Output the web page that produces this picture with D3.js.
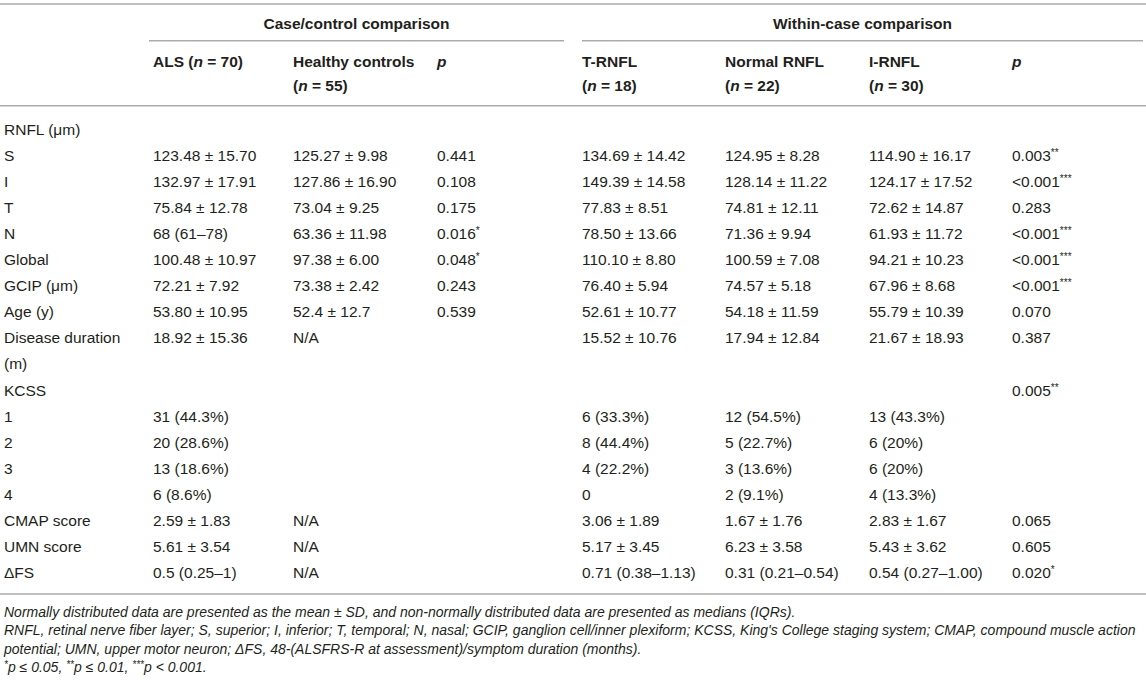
<!DOCTYPE html>
<html>
<head>
<meta charset="utf-8">
<script src="https://cdn.jsdelivr.net/npm/d3@7/dist/d3.min.js"></script>
<style>
  html, body { margin: 0; padding: 0; background: #fff; }
  svg { display: block; }
  text { font-family: "Liberation Sans", Arial, Helvetica, sans-serif; fill: #231f20; }
</style>
</head>
<body>
<svg id="chart" width="1146" height="683"></svg>
<script>
// ---------- DATA ----------
const groupTitles = ["Case/control comparison", "Within-case comparison"];
// header parts: [text, italic?], one array per line
const headerLabels = [
  [],
  [[["ALS (", 0], ["n", 1], [" = 70)", 0]]],
  [[["Healthy controls", 0]], [["(", 0], ["n", 1], [" = 55)", 0]]],
  [[["p", 1]]],
  [[["T-RNFL", 0]], [["(", 0], ["n", 1], [" = 18)", 0]]],
  [[["Normal RNFL", 0]], [["(", 0], ["n", 1], [" = 22)", 0]]],
  [[["I-RNFL", 0]], [["(", 0], ["n", 1], [" = 30)", 0]]],
  [[["p", 1]]]
];
const rowLabels = ["RNFL (\u03bcm)", "S", "I", "T", "N", "Global", "GCIP (\u03bcm)", "Age (y)",
  "Disease duration|(m)", "KCSS", "1", "2", "3", "4", "CMAP score", "UMN score", "\u0394FS"];
const alsValues = ["", "123.48 \u00b1 15.70", "132.97 \u00b1 17.91", "75.84 \u00b1 12.78", "68 (61\u201378)",
  "100.48 \u00b1 10.97", "72.21 \u00b1 7.92", "53.80 \u00b1 10.95", "18.92 \u00b1 15.36", "",
  "31 (44.3%)", "20 (28.6%)", "13 (18.6%)", "6 (8.6%)", "2.59 \u00b1 1.83", "5.61 \u00b1 3.54", "0.5 (0.25\u20131)"];
const controlValues = ["", "125.27 \u00b1 9.98", "127.86 \u00b1 16.90", "73.04 \u00b1 9.25", "63.36 \u00b1 11.98",
  "97.38 \u00b1 6.00", "73.38 \u00b1 2.42", "52.4 \u00b1 12.7", "N/A", "",
  "", "", "", "", "N/A", "N/A", "N/A"];
const pCaseControl = ["", "0.441", "0.108", "0.175", "0.016*", "0.048*", "0.243", "0.539", "", "",
  "", "", "", "", "", "", ""];
const tRnflValues = ["", "134.69 \u00b1 14.42", "149.39 \u00b1 14.58", "77.83 \u00b1 8.51", "78.50 \u00b1 13.66",
  "110.10 \u00b1 8.80", "76.40 \u00b1 5.94", "52.61 \u00b1 10.77", "15.52 \u00b1 10.76", "",
  "6 (33.3%)", "8 (44.4%)", "4 (22.2%)", "0", "3.06 \u00b1 1.89", "5.17 \u00b1 3.45", "0.71 (0.38\u20131.13)"];
const normalRnflValues = ["", "124.95 \u00b1 8.28", "128.14 \u00b1 11.22", "74.81 \u00b1 12.11", "71.36 \u00b1 9.94",
  "100.59 \u00b1 7.08", "74.57 \u00b1 5.18", "54.18 \u00b1 11.59", "17.94 \u00b1 12.84", "",
  "12 (54.5%)", "5 (22.7%)", "3 (13.6%)", "2 (9.1%)", "1.67 \u00b1 1.76", "6.23 \u00b1 3.58", "0.31 (0.21\u20130.54)"];
const iRnflValues = ["", "114.90 \u00b1 16.17", "124.17 \u00b1 17.52", "72.62 \u00b1 14.87", "61.93 \u00b1 11.72",
  "94.21 \u00b1 10.23", "67.96 \u00b1 8.68", "55.79 \u00b1 10.39", "21.67 \u00b1 18.93", "",
  "13 (43.3%)", "6 (20%)", "6 (20%)", "4 (13.3%)", "2.83 \u00b1 1.67", "5.43 \u00b1 3.62", "0.54 (0.27\u20131.00)"];
const pWithinCase = ["", "0.003**", "<0.001***", "0.283", "<0.001***", "<0.001***", "<0.001***", "0.070", "0.387",
  "0.005**", "", "", "", "", "0.065", "0.605", "0.020*"];
const footnotes = [
  "Normally distributed data are presented as the mean \u00b1 SD, and non-normally distributed data are presented as medians (IQRs).",
  "RNFL, retinal nerve fiber layer; S, superior; I, inferior; T, temporal; N, nasal; GCIP, ganglion cell/inner plexiform; KCSS, King's College staging system; CMAP, compound muscle action",
  "potential; UMN, upper motor neuron; \u0394FS, 48-(ALSFRS-R at assessment)/symptom duration (months).",
  "*p \u2264 0.05, **p \u2264 0.01, ***p < 0.001."
];

// ---------- LAYOUT ----------
const svg = d3.select("#chart");
const W = 1146;
const FS = 15.5;
const colKeys = ["label", "als", "hc", "p1", "t", "nrm", "irn", "p2"];
const x = d3.scaleOrdinal().domain(colKeys).range([4, 153, 293, 437, 582, 725, 869, 1012]);
const columnsData = [rowLabels, alsValues, controlValues, pCaseControl, tRnflValues, normalRnflValues, iRnflValues, pWithinCase];

// line index for each row (disease duration takes two lines)
const lineIndex = [];
let li = 0;
rowLabels.forEach(r => { lineIndex.push(li); li += r.split("|").length; });
const y = d3.scaleLinear().domain([0, 17]).range([129, 572.7]);
const BASE = 5.5; // center -> baseline offset

const ruleColor = "#ababab";
function rule(x1, x2, yy) {
  svg.append("line").attr("x1", x1).attr("x2", x2).attr("y1", yy).attr("y2", yy)
    .attr("stroke", ruleColor).attr("stroke-width", 1.6);
}
rule(0, W, 4);
rule(149, 564, 40.7);
rule(582, 1143, 40.7);
rule(0, W, 105.7);
rule(0, W, 594);

// group titles
const groupSpans = [[149, 564], [582, 1143]];
svg.selectAll("text.group").data(groupTitles).join("text")
  .attr("class", "group")
  .attr("x", (d, i) => (groupSpans[i][0] + groupSpans[i][1]) / 2)
  .attr("y", 23 + BASE)
  .attr("text-anchor", "middle")
  .attr("font-size", FS).attr("font-weight", "bold")
  .text(d => d);

// column headers
const headerY = [61, 85];
headerLabels.forEach((lines, ci) => {
  lines.forEach((parts, lj) => {
    const t = svg.append("text")
      .attr("x", x(colKeys[ci]))
      .attr("y", headerY[lj] + BASE)
      .attr("font-size", FS).attr("font-weight", "bold");
    t.selectAll("tspan").data(parts).join("tspan")
      .attr("font-style", d => d[1] ? "italic" : "normal")
      .text(d => d[0]);
  });
});

// cells with superscript stars
function cellText(sel, str) {
  const m = str.match(/^(.*?)(\*+)$/);
  if (m) {
    sel.append("tspan").text(m[1]);
    sel.append("tspan").attr("font-size", 10).attr("dy", -5).text(m[2]);
  } else {
    sel.text(str);
  }
}

columnsData.forEach((col, ci) => {
  col.forEach((val, ri) => {
    if (!val) return;
    const lines = val.split("|");
    lines.forEach((ln, k) => {
      const t = svg.append("text")
        .attr("x", x(colKeys[ci]))
        .attr("y", y(lineIndex[ri] + k) + BASE)
        .attr("font-size", FS);
      cellText(t, ln);
    });
  });
});

// footnotes
const FN = 14;
const fy = d3.scaleLinear().domain([0, 3]).range([612, 667]);
footnotes.forEach((f, i) => {
  const t = svg.append("text")
    .attr("x", 4).attr("y", fy(i) + 5)
    .attr("font-size", FN).attr("font-style", "italic");
  if (i === 3) {
    const parts = [["*", 1], ["p \u2264 0.05, ", 0], ["**", 1], ["p \u2264 0.01, ", 0], ["***", 1], ["p < 0.001.", 0]];
    parts.forEach((p, k) => {
      const s = t.append("tspan").text(p[0]);
      if (p[1]) s.attr("font-size", 10).attr("dy", -4.5);
      else s.attr("dy", 4.5).attr("font-size", FN);
    });
    t.select("tspan").attr("dy", -4.5);
  } else {
    t.text(f);
  }
});
</script>
</body>
</html>
